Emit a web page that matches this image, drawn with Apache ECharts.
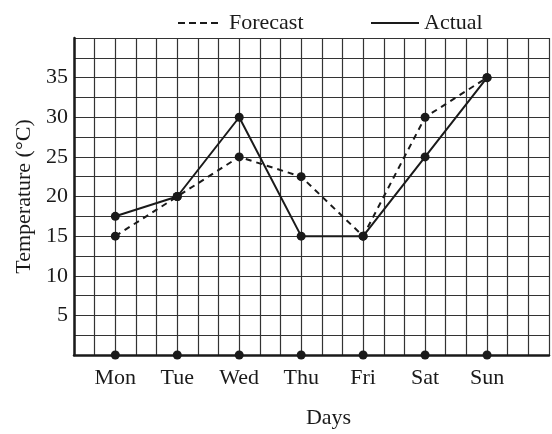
<!DOCTYPE html>
<html>
<head>
<meta charset="utf-8">
<script src="https://cdn.jsdelivr.net/npm/echarts@6/dist/echarts.min.js"></script>
<style>html,body{margin:0;padding:0;background:#fff;}#c{width:552px;height:434px;}</style>
</head>
<body>
<div id="c"></div>
<script>
var days = ['Mon', 'Tue', 'Wed', 'Thu', 'Fri', 'Sat', 'Sun'];
var forecast = [15, 20, 25, 22.5, 15, 30, 35];
var actual = [17.5, 20, 30, 15, 15, 25, 35];
var yTicks = [5, 10, 15, 20, 25, 30, 35];

// x axis is measured in grid cells; one day every 3 cells, Monday at cell 2
var FIRST = 2, STEP = 3;
function pos(i) { return FIRST + STEP * i; }
function pairs(vals) { return vals.map(function (v, i) { return [pos(i), v]; }); }

var FONT = "'Liberation Serif', 'Times New Roman', serif";
var INK = '#1a1a1a';

var chart = echarts.init(document.getElementById('c'), null, { renderer: 'canvas' });
chart.setOption({
  animation: false,
  backgroundColor: '#fff',
  textStyle: { fontFamily: FONT, color: INK },
  legend: [
    { data: [{ name: 'Forecast', icon: 'path://M0,0h7v2h-7zM11,0h7v2h-7zM22,0h7v2h-7zM33,0h7v2h-7z' }],
      left: 173, top: 7, itemWidth: 40, itemHeight: 2, itemGap: 0,
      textStyle: { fontFamily: FONT, fontSize: 22, color: INK, padding: [0, 0, 0, 6] } },
    { data: [{ name: 'Actual', icon: 'path://M0,0h48v2h-48z' }],
      left: 366, top: 7, itemWidth: 48, itemHeight: 2, itemGap: 0,
      textStyle: { fontFamily: FONT, fontSize: 22, color: INK } }
  ],
  grid: { left: 74, right: 1, top: 38, bottom: 77, containLabel: false },
  xAxis: {
    type: 'value', min: 0, max: 23, interval: 1,
    name: 'Days', nameLocation: 'middle', nameGap: 52,
    nameTextStyle: { fontFamily: FONT, fontSize: 22, color: INK, padding: [0, 0, 0, 34] },
    axisLine: { show: true, lineStyle: { color: INK, width: 2.5 } },
    axisTick: { show: false },
    axisLabel: {
      fontFamily: FONT, fontSize: 22, color: INK, margin: 12, showMinLabel: true, showMaxLabel: true,
      formatter: function (v) {
        var k = (v - FIRST) / STEP;
        return (k >= 0 && k < days.length && Math.abs(k - Math.round(k)) < 1e-6) ? days[Math.round(k)] : '';
      }
    },
    splitLine: { show: true, lineStyle: { color: '#333', width: 1.2 } }
  },
  yAxis: {
    type: 'value', min: 0, max: 40, interval: 2.5,
    name: 'Temperature (°C)', nameLocation: 'middle', nameGap: 35, nameRotate: 90,
    nameTextStyle: { fontFamily: FONT, fontSize: 22, color: INK },
    axisLine: { show: true, lineStyle: { color: INK, width: 2.5 } },
    axisTick: { show: false },
    axisLabel: {
      fontFamily: FONT, fontSize: 22, color: INK, margin: 6,
      formatter: function (v) { return yTicks.indexOf(v) >= 0 ? String(v) : ''; }
    },
    splitLine: { show: true, lineStyle: { color: '#333', width: 1.2 } }
  },
  series: [
    { name: 'Forecast', type: 'line', data: pairs(forecast), symbol: 'none',
      lineStyle: { color: INK, width: 2, type: [6, 5] }, itemStyle: { color: INK }, z: 3 },
    { name: 'Actual', type: 'line', data: pairs(actual), symbol: 'none',
      lineStyle: { color: INK, width: 2, type: 'solid' }, itemStyle: { color: INK }, z: 3 },
    { name: 'ForecastPts', type: 'scatter', data: pairs(forecast), symbol: 'circle', symbolSize: 9,
      itemStyle: { color: INK, opacity: 1 }, z: 4, clip: false },
    { name: 'ActualPts', type: 'scatter', data: pairs(actual), symbol: 'circle', symbolSize: 9,
      itemStyle: { color: INK, opacity: 1 }, z: 4, clip: false },
    { name: 'AxisPts', type: 'scatter', data: days.map(function (d, i) { return [pos(i), 0]; }),
      symbol: 'circle', symbolSize: 9, itemStyle: { color: INK, opacity: 1 }, z: 5, clip: false }
  ]
});
</script>
</body>
</html>
